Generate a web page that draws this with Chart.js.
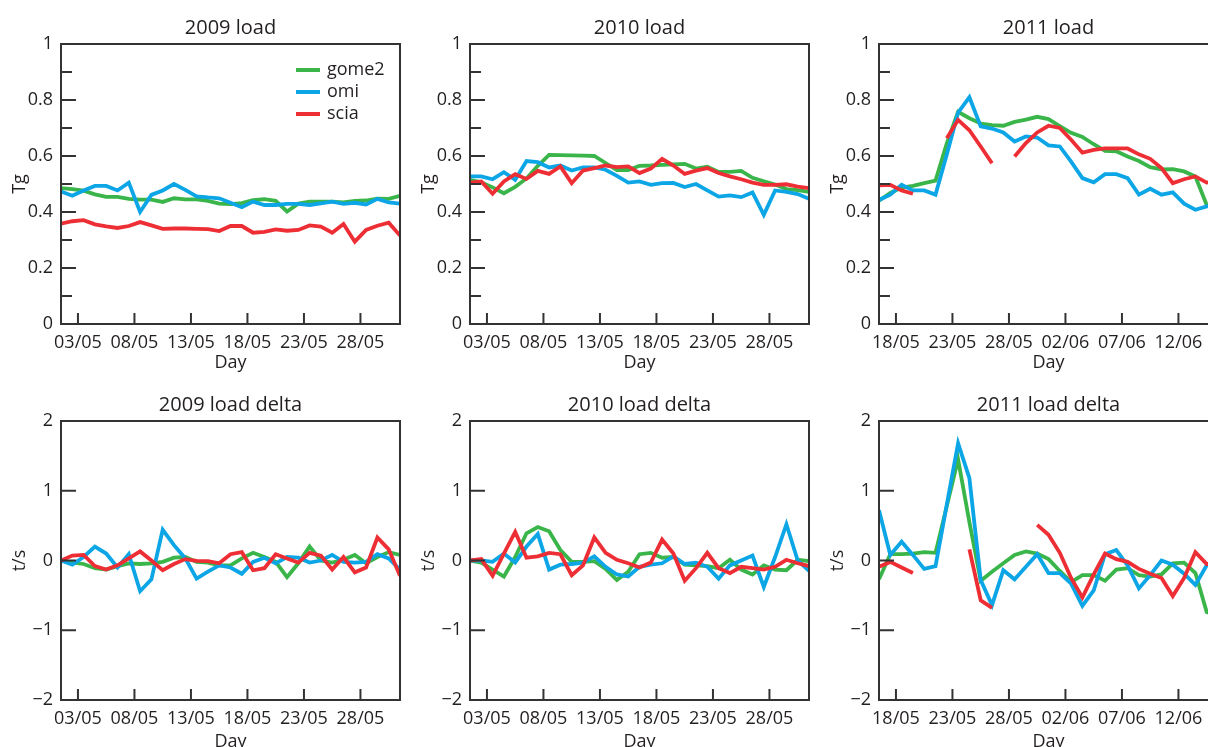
<!DOCTYPE html>
<html>
<head>
<meta charset="utf-8">
<script src="https://cdn.jsdelivr.net/npm/chart.js@4.4.1/dist/chart.umd.min.js"></script>
<style>
    html, body { margin: 0; padding: 0; background: #fff; overflow: hidden; }
    #wrap { position: relative; width: 1208px; height: 747px; overflow: hidden; }
    canvas { position: absolute; }
</style>
</head>
<body>
<div id="wrap">
    <canvas id="c2009" width="409" height="375" style="left:0px;top:0px"></canvas>
    <canvas id="c2010" width="409" height="375" style="left:409px;top:0px"></canvas>
    <canvas id="c2011" width="409" height="375" style="left:818px;top:0px"></canvas>
    <canvas id="d2009" width="409" height="380" style="left:0px;top:377px"></canvas>
    <canvas id="d2010" width="409" height="380" style="left:409px;top:377px"></canvas>
    <canvas id="d2011" width="409" height="380" style="left:818px;top:377px"></canvas>
</div>
<script>
// series names
const seriesNames = ['gome2', 'omi', 'scia'];

// days (one value per day, at noon)
const daysMay = ['01/05','02/05','03/05','04/05','05/05','06/05','07/05','08/05','09/05','10/05',
    '11/05','12/05','13/05','14/05','15/05','16/05','17/05','18/05','19/05','20/05',
    '21/05','22/05','23/05','24/05','25/05','26/05','27/05','28/05','29/05','30/05','31/05'];
const days2011 = ['16/05','17/05','18/05','19/05','20/05','21/05','22/05','23/05','24/05','25/05',
    '26/05','27/05','28/05','29/05','30/05','31/05','01/06','02/06','03/06','04/06',
    '05/06','06/06','07/06','08/06','09/06','10/06','11/06','12/06','13/06','14/06','15/06'];

// tick labels
const ticksMay = ['03/05', '08/05', '13/05', '18/05', '23/05', '28/05'];
const ticks2011 = ['18/05', '23/05', '28/05', '02/06', '07/06', '12/06'];
const yTicksLoad = [0, 0.2, 0.4, 0.6, 0.8, 1];
const yTicksDelta = [-2, -1, 0, 1, 2];

// load (Tg)
const gome2_2009 = [0.485, 0.482, 0.476, 0.463, 0.454, 0.454, 0.447, 0.444, 0.444, 0.436, 0.449, 0.445, 0.445, 0.440, 0.430, 0.428,
    0.432, 0.442, 0.446, 0.440, 0.402, 0.430, 0.437, 0.437, 0.437, 0.434, 0.440, 0.441, 0.448, 0.447, 0.458];
const omi_2009 = [0.473, 0.458, 0.477, 0.493, 0.493, 0.477, 0.505, 0.400, 0.461, 0.477, 0.500, 0.479, 0.456, 0.452, 0.449, 0.433,
    0.417, 0.437, 0.425, 0.425, 0.429, 0.429, 0.425, 0.431, 0.437, 0.429, 0.433, 0.427, 0.447, 0.434, 0.430];
const scia_2009 = [0.358, 0.367, 0.371, 0.356, 0.349, 0.343, 0.350, 0.364, 0.352, 0.340, 0.341, 0.341, 0.340, 0.339, 0.332, 0.350,
    0.350, 0.326, 0.329, 0.338, 0.333, 0.336, 0.352, 0.348, 0.326, 0.357, 0.294, 0.336, 0.351, 0.362, 0.316];

const gome2_2010 = [0.515, 0.506, 0.488, 0.467, 0.490, 0.520, 0.565, 0.604, 0.603, 0.602, 0.601, 0.600, 0.575, 0.550, 0.550, 0.565,
    0.566, 0.568, 0.570, 0.572, 0.555, 0.562, 0.543, 0.543, 0.547, 0.522, 0.510, 0.498, 0.482, 0.478, 0.472];
const omi_2010 = [0.527, 0.527, 0.517, 0.542, 0.515, 0.582, 0.578, 0.559, 0.566, 0.548, 0.559, 0.559, 0.551, 0.529, 0.505, 0.509,
    0.497, 0.503, 0.504, 0.489, 0.500, 0.477, 0.455, 0.459, 0.453, 0.470, 0.390, 0.477, 0.472, 0.464, 0.447];
const scia_2010 = [0.505, 0.509, 0.465, 0.509, 0.535, 0.518, 0.547, 0.536, 0.563, 0.503, 0.548, 0.557, 0.566, 0.560, 0.563, 0.539,
    0.555, 0.590, 0.566, 0.536, 0.548, 0.557, 0.539, 0.527, 0.517, 0.505, 0.497, 0.497, 0.499, 0.491, 0.485];

const gome2_2011 = [0.440, 0.468, 0.487, 0.493, 0.503, 0.512, 0.645, 0.758, 0.735, 0.716, 0.710, 0.708, 0.722, 0.730, 0.740, 0.732,
    0.707, 0.683, 0.668, 0.642, 0.618, 0.617, 0.598, 0.582, 0.560, 0.552, 0.553, 0.545, 0.527, 0.425, 0.420];
const omi_2011 = [0.443, 0.462, 0.497, 0.477, 0.477, 0.462, 0.605, 0.755, 0.810, 0.706, 0.698, 0.684, 0.652, 0.670, 0.666, 0.638,
    0.634, 0.580, 0.521, 0.506, 0.535, 0.535, 0.521, 0.462, 0.483, 0.462, 0.470, 0.430, 0.408, 0.420, 0.425];
const scia_2011 = [0.495, 0.497, 0.477, 0.465, null, null, 0.663, 0.729, 0.692, 0.634, 0.574, null, 0.598, 0.646, 0.684, 0.708,
    0.700, 0.658, 0.612, 0.622, 0.627, 0.627, 0.627, 0.606, 0.590, 0.557, 0.503, 0.517, 0.527, 0.505, 0.510];

// load delta (t/s)
const gome2_d2009 = [0, -0.03, -0.05, -0.11, -0.13, -0.08, -0.04, -0.05, -0.04, -0.02, 0.04, 0.05, -0.02, -0.03, -0.07, -0.07,
    0.03, 0.11, 0.05, -0.02, -0.24, -0.04, 0.20, 0.00, -0.03, 0.01, 0.08, -0.04, 0.05, 0.12, 0.08];
const omi_d2009 = [0, -0.06, 0.05, 0.20, 0.10, -0.10, 0.09, -0.44, -0.27, 0.44, 0.22, 0.03, -0.26, -0.16, -0.07, -0.10,
    -0.19, -0.02, 0.04, -0.04, 0.05, 0.04, -0.03, 0.00, 0.08, -0.02, -0.03, -0.02, 0.09, 0.03, -0.13];
const scia_d2009 = [0, 0.07, 0.08, -0.08, -0.13, -0.07, 0.03, 0.13, 0.00, -0.14, -0.05, 0.02, -0.005, -0.01, -0.04, 0.09,
    0.12, -0.14, -0.11, 0.09, 0.03, -0.03, 0.11, 0.07, -0.13, 0.05, -0.17, -0.10, 0.33, 0.16, -0.22];

const gome2_d2010 = [0, -0.03, -0.13, -0.23, 0.05, 0.39, 0.48, 0.42, 0.15, -0.02, -0.02, -0.01, -0.12, -0.28, -0.16, 0.09,
    0.11, 0.04, 0.05, -0.06, -0.07, -0.08, -0.11, 0.01, -0.13, -0.20, -0.07, -0.13, -0.14, 0.01, -0.01];
const omi_d2010 = [0, 0, -0.02, 0.10, -0.03, 0.20, 0.38, -0.13, -0.06, -0.05, -0.03, 0.06, -0.09, -0.20, -0.23, -0.09,
    -0.06, -0.04, 0.06, -0.05, -0.03, -0.09, -0.26, -0.07, 0.00, 0.07, -0.38, 0.05, 0.52, 0.00, -0.15];
const scia_d2010 = [0, 0.02, -0.22, 0.10, 0.41, 0.04, 0.06, 0.11, 0.09, -0.21, -0.07, 0.33, 0.11, 0.01, -0.04, -0.10,
    -0.03, 0.30, 0.10, -0.29, -0.11, 0.11, -0.11, -0.18, -0.09, -0.11, -0.13, -0.09, 0.01, -0.04, -0.08];

const gome2_d2011 = [-0.27, 0.09, 0.09, 0.10, 0.12, 0.11, 0.78, 1.45, 0.55, -0.29, -0.16, -0.04, 0.08, 0.13, 0.10, 0.02,
    -0.15, -0.31, -0.21, -0.21, -0.29, -0.13, -0.11, -0.21, -0.23, -0.20, -0.04, -0.03, -0.18, -0.74, -0.80];
const omi_d2011 = [0.72, 0.08, 0.27, 0.08, -0.12, -0.08, 0.80, 1.68, 1.18, -0.28, -0.64, -0.14, -0.27, -0.09, 0.09, -0.18,
    -0.18, -0.33, -0.65, -0.43, 0.09, 0.15, -0.07, -0.40, -0.21, 0.00, -0.06, -0.19, -0.35, -0.07, 0.05];
const scia_d2011 = [-0.09, -0.02, -0.10, -0.18, null, null, null, null, 0.16, -0.57, -0.68, null, null, null, 0.51, 0.37,
    0.11, -0.25, -0.53, -0.20, 0.10, 0.02, -0.02, -0.12, -0.19, -0.25, -0.51, -0.25, 0.12, -0.05, -0.05];

const colors = ['#3ab54a', '#0ca6e6', '#ee2e35'];
const textColor = '#231f20';
const frameColor = '#333333';

Chart.defaults.font.family = "'Open Sans', 'DejaVu Sans', sans-serif";
Chart.defaults.color = textColor;

// frame round the plot with inward tick marks
const frameTicks = {
    id: 'frameTicks',
    afterDatasetsDraw(chart, args, opts) {
        const { ctx, chartArea: a, scales: { x, y } } = chart;
        ctx.save();
        ctx.strokeStyle = frameColor;
        ctx.lineWidth = 2;
        ctx.strokeRect(a.left, a.top, a.right - a.left, a.bottom - a.top);
        ctx.beginPath();
        x.ticks.forEach(t => {
            const px = x.getPixelForValue(t.value);
            ctx.moveTo(px, a.bottom);
            ctx.lineTo(px, a.bottom - 11);
        });
        y.ticks.forEach((t, i) => {
            const py = y.getPixelForValue(t.value);
            ctx.moveTo(a.left, py);
            ctx.lineTo(a.left + 15, py);
            if (opts.minor && i < y.ticks.length - 1) {
                const pm = y.getPixelForValue((t.value + y.ticks[i + 1].value) / 2);
                ctx.moveTo(a.left, pm);
                ctx.lineTo(a.left + 11, pm);
            }
        });
        ctx.stroke();
        ctx.restore();
    }
};

// legend inside the first panel
const insideLegend = {
    id: 'insideLegend',
    afterDatasetsDraw(chart, args, opts) {
        if (!opts.show) return;
        const { ctx, chartArea: a } = chart;
        ctx.save();
        ctx.font = "18px 'Open Sans'";
        ctx.textBaseline = 'middle';
        ctx.fillStyle = textColor;
        chart.data.datasets.forEach((ds, i) => {
            const yy = a.top + 26 + i * 22;
            ctx.strokeStyle = ds.borderColor;
            ctx.lineWidth = 4;
            ctx.beginPath();
            ctx.moveTo(a.right - 104, yy);
            ctx.lineTo(a.right - 80, yy);
            ctx.stroke();
            ctx.fillText(ds.label, a.right - 73, yy);
        });
        ctx.restore();
    }
};

function fmt(v) {
    return v < 0 ? '\u2212' + Math.abs(v) : String(v);
}

function makePanel(id, title, days, tickLabels, values, yTicks, yTitle, topRow, legend) {
    const tickVals = tickLabels.map(l => days.indexOf(l) - 0.5);
    const datasets = values.map((vals, s) => ({
        label: seriesNames[s],
        data: vals.map((v, i) => ({ x: i, y: v })),
        borderColor: colors[s],
        borderWidth: 3.8,
        pointRadius: 0,
        tension: 0,
        fill: false,
        order: 2 - s
    }));

    new Chart(document.getElementById(id), {
        type: 'line',
        data: { datasets: datasets },
        options: {
            responsive: false,
            animation: false,
            events: [],
            layout: { padding: { left: 0, right: 9, top: 0, bottom: 0 } },
            scales: {
                x: {
                    type: 'linear',
                    min: 0,
                    max: days.length - 1,
                    grid: { display: false, drawTicks: false },
                    border: { display: false },
                    afterBuildTicks: s => { s.ticks = tickVals.map(v => ({ value: v })); },
                    afterFit: s => { s.height = topRow ? 51 : 57; },
                    ticks: {
                        padding: 8,
                        maxRotation: 0,
                        autoSkip: false,
                        font: { size: 18 },
                        callback: (v, i) => tickLabels[i]
                    },
                    title: {
                        display: true,
                        text: 'Day',
                        font: { size: 18 },
                        padding: { top: 0, bottom: topRow ? 1 : 4 }
                    }
                },
                y: {
                    min: yTicks[0],
                    max: yTicks[yTicks.length - 1],
                    grid: { display: false, drawTicks: false },
                    border: { display: false },
                    afterBuildTicks: s => { s.ticks = yTicks.map(v => ({ value: v })); },
                    afterFit: s => { s.width = 61; },
                    ticks: {
                        padding: 8,
                        autoSkip: false,
                        font: { size: 18 },
                        callback: v => fmt(v)
                    },
                    title: {
                        display: true,
                        text: yTitle,
                        font: { size: 18 },
                        padding: { top: 9, bottom: 0 }
                    }
                }
            },
            plugins: {
                legend: { display: false },
                tooltip: { enabled: false },
                title: {
                    display: true,
                    text: title,
                    fullSize: false,
                    color: textColor,
                    font: { size: 20, weight: 'normal', lineHeight: '22px' },
                    padding: { top: 17, bottom: 5 }
                },
                frameTicks: { minor: topRow },
                insideLegend: { show: legend }
            }
        },
        plugins: [frameTicks, insideLegend]
    });
}

makePanel('c2009', '2009 load', daysMay, ticksMay, [gome2_2009, omi_2009, scia_2009], yTicksLoad, 'Tg', true, true);
makePanel('c2010', '2010 load', daysMay, ticksMay, [gome2_2010, omi_2010, scia_2010], yTicksLoad, 'Tg', true, false);
makePanel('c2011', '2011 load', days2011, ticks2011, [gome2_2011, omi_2011, scia_2011], yTicksLoad, 'Tg', true, false);
makePanel('d2009', '2009 load delta', daysMay, ticksMay, [gome2_d2009, omi_d2009, scia_d2009], yTicksDelta, 't/s', false, false);
makePanel('d2010', '2010 load delta', daysMay, ticksMay, [gome2_d2010, omi_d2010, scia_d2010], yTicksDelta, 't/s', false, false);
makePanel('d2011', '2011 load delta', days2011, ticks2011, [gome2_d2011, omi_d2011, scia_d2011], yTicksDelta, 't/s', false, false);
</script>
</body>
</html>
